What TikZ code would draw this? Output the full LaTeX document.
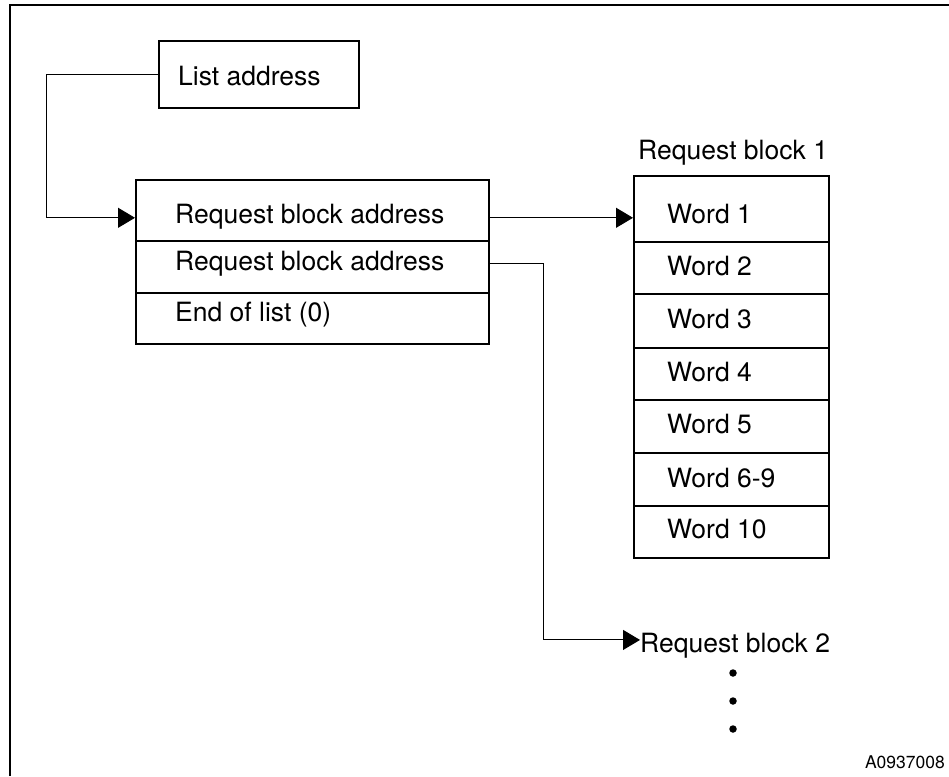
\documentclass[tikz,border=0pt]{standalone}
\usepackage{fontspec}
\setmainfont{TeX Gyre Heros}
\usetikzlibrary{arrows.meta,calc}

\tikzset{
  cell/.style={draw, line width=1.6pt, rectangle, inner sep=0pt, anchor=north west},
  lbl/.style={inner sep=0pt, anchor=base west, font=\fontsize{26.5}{30}\selectfont},
  link/.style={line width=1pt, -{Triangle[length=17pt,width=20pt]}},
  frameline/.style={line width=1.8pt},
  dot/.style={circle, fill, inner sep=0pt, minimum size=7.5pt},
}

\begin{document}
\begin{tikzpicture}[x=1pt, y=-1pt]
\useasboundingbox (0,0) rectangle (949,776);

% corner frame (top and left edges)
\draw[frameline] (10,776) -- (10,5) -- (949,5);

% list address cell
\node[cell, minimum width=200pt, minimum height=67pt] (la) at (158,40) {};
\node[lbl] (lat) at (178,85) {List address};

% list of request block addresses
\node[cell, minimum width=353pt, minimum height=61pt] (r1) at (135,179) {};
\node[cell, minimum width=353pt, minimum height=52pt] (r2) at (135,240) {};
\node[cell, minimum width=353pt, minimum height=51pt] (r3) at (135,292) {};
\node[lbl] (r1t) at (175,223) {Request block address};
\node[lbl] (r2t) at (175,270) {Request block address};
\node[lbl] (r3t) at (175,321) {End of list (0)};

% request block 1
\node[lbl] (rb1) at (638,159) {Request block 1};
\node[cell, minimum width=195pt, minimum height=66pt] (w1) at (633,175) {};
\node[cell, minimum width=195pt, minimum height=52pt] (w2) at (633,241) {};
\node[cell, minimum width=195pt, minimum height=54pt] (w3) at (633,293) {};
\node[cell, minimum width=195pt, minimum height=52pt] (w4) at (633,347) {};
\node[cell, minimum width=195pt, minimum height=53pt] (w5) at (633,399) {};
\node[cell, minimum width=195pt, minimum height=53pt] (w6) at (633,452) {};
\node[cell, minimum width=195pt, minimum height=52pt] (w7) at (633,505) {};
\node[lbl] (w1t) at (667,223) {Word 1};
\node[lbl] (w2t) at (667,275) {Word 2};
\node[lbl] (w3t) at (667,328) {Word 3};
\node[lbl] (w4t) at (667,381) {Word 4};
\node[lbl] (w5t) at (667,433) {Word 5};
\node[lbl] (w6t) at (667,487) {Word 6-9};
\node[lbl] (w7t) at (667,538) {Word 10};

% request block 2 and continuation dots
\node[lbl] (rb2) at (640,652) {Request block 2};
\node[dot] (d1) at (733,673) {};
\node[dot] (d2) at (733,701) {};
\node[dot] (d3) at (733,729) {};

% figure id
\node[inner sep=0pt, anchor=base east, font=\fontsize{17.5}{20}\selectfont] (fid) at (945,768) {A0937008};

% connectors
\draw[link] (la.west) -- ++(-112,0) |- ([yshift=-7.5pt]r1.west);
\draw[link] ([yshift=-7.5pt]r1.east) -- ([yshift=-7.5pt]r1.east -| w1.west);
\draw[link] ([yshift=3pt]r2.east) -- ++(54,0) |- ([yshift=5.3pt]rb2.west);
\end{tikzpicture}
\end{document}
